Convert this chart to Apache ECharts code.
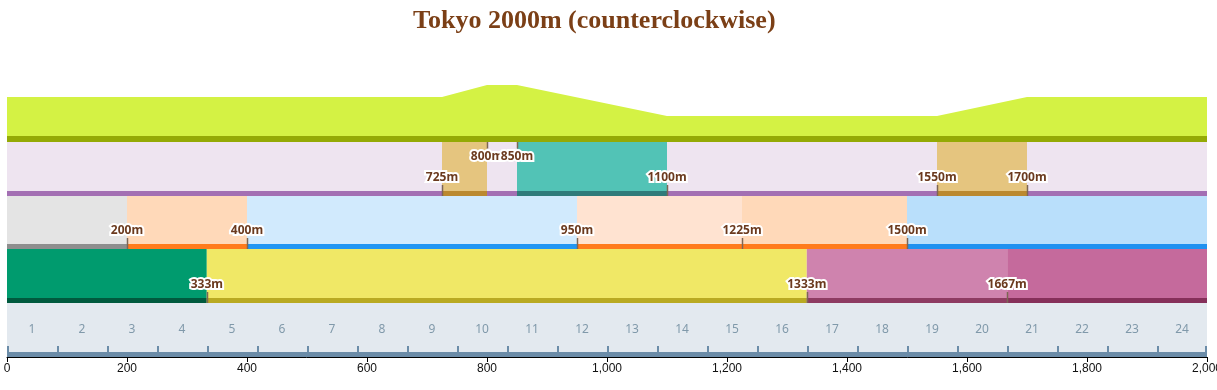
<!DOCTYPE html>
<html><head><meta charset="utf-8">
<script src="https://cdn.jsdelivr.net/npm/echarts@6/dist/echarts.min.js"></script>
<style>html,body{margin:0;padding:0;background:#fff}#c{width:1217px;height:390px}</style>
</head><body><div id="c"></div>
<script>
// ---------------- data ----------------
const TITLE = 'Tokyo 2000m (counterclockwise)';
const COURSE_LENGTH = 2000;
const AXIS_STEP = 200;
// relative elevation profile [distance m, elevation]
const elevationProfile = [[0,0],[725,0],[800,12],[850,12],[1100,-19],[1550,-19],[1700,0],[2000,0]];
// slope segments [start, end, kind]
const slopeSegments = [[725,800,'uphill'],[850,1100,'downhill'],[1550,1700,'uphill']];
// slope boundary marks [distance, placement]
const slopeMarks = [[725,'low'],[800,'high'],[850,'high'],[1100,'low'],[1550,'low'],[1700,'low']];
// corners / straights
const trackSegments = [[0,200,'start'],[200,400,'corner2'],[400,950,'backStraight'],[950,1225,'corner3'],[1225,1500,'corner4'],[1500,2000,'homeStraight']];
const trackMarks = [[200,'low'],[400,'low'],[950,'low'],[1225,'low'],[1500,'low']];
// race phases
const phaseSegments = [[0,333,'opening'],[333,1333,'middle'],[1333,1667,'final'],[1667,2000,'spurt']];
const phaseMarks = [[333,'low'],[1333,'low'],[1667,'low']];
// sections
const sectionLabels = ['1','2','3','4','5','6','7','8','9','10','11','12','13','14','15','16','17','18','19','20','21','22','23','24'];

// ---------------- layout / style ----------------
const ROWS = { slopeLine:[215,221], slope:[161,215], track:[108,161], phase:[54,108], section:[5,54], bar:[0,5] };
const LINE_W = 5;
const STYLE = {
  slopeArea:'#d4f244', slopeLine:'#94aa05',
  slopeBg:['#eee4f0','#a36fb3'],
  uphill:['#e5c57f','#bb892f'], downhill:['#52c3b6','#2f7b7a'],
  start:['#e4e4e4','#8e8e8e'], corner2:['#ffd9b9','#ff7b1c'], backStraight:['#d1eafd','#2196f3'],
  corner3:['#ffe3d1','#ff7b1c'], corner4:['#ffd9b9','#ff7b1c'], homeStraight:['#b9dffb','#1f91f0'],
  opening:['#009b6e','#005a3e'], middle:['#f0e866','#b9aa22'], final:['#cf83ae','#8e3b62'], spurt:['#c56a9c','#86305a'],
  sectionBg:'#e3e9ef', sectionInk:'#8099aa', bar:'#6b8ca8',
  markInk:'#6b3a1e', tick:'#7d6654'
};

function segSeries(row, segs, z) {
  return {
    type:'custom', xAxisIndex:0, yAxisIndex:0, z, silent:true, clip:false,
    data: segs.map(s => [s[0], s[1]]),
    renderItem(params, api) {
      const s = segs[params.dataIndex];
      const [fill, line] = STYLE[s[2]];
      const [lo, hi] = ROWS[row];
      const a = api.coord([api.value(0), hi]);
      const b = api.coord([api.value(1), lo]);
      const c = api.coord([api.value(0), lo + LINE_W]);
      return { type:'group', children:[
        { type:'rect', shape:{x:a[0], y:a[1], width:b[0]-a[0], height:b[1]-a[1]}, style:{fill} },
        { type:'rect', shape:{x:a[0], y:c[1], width:b[0]-a[0], height:b[1]-c[1]}, style:{fill:line} }
      ]};
    }
  };
}

function markSeries(row, marks, z) {
  return {
    type:'custom', xAxisIndex:0, yAxisIndex:0, z, silent:true, clip:false,
    data: marks.map(m => [m[0], 0]),
    renderItem(params, api) {
      const m = marks[params.dataIndex];
      const [lo, hi] = ROWS[row];
      const x = api.value(0);
      let t0, t1, ty;
      if (m[1] === 'high') { t0 = hi; t1 = hi - 6.5; ty = hi - 15; }
      else { t0 = lo; t1 = lo + 11; ty = lo + 18.5; }
      const p0 = api.coord([x, t0]), p1 = api.coord([x, t1]), pt = api.coord([x, ty]);
      return { type:'group', children:[
        { type:'line', shape:{x1:Math.round(p0[0])+0.5, y1:p0[1], x2:Math.round(p0[0])+0.5, y2:p1[1]}, style:{stroke:STYLE.tick, lineWidth:1.5} },
        { type:'text', style:{ x:pt[0], y:pt[1], text: m[0] + 'm', fill:STYLE.markInk, stroke:'#fff', lineWidth:4,
          font:'bold 12px "Noto Sans", sans-serif', align:'center', verticalAlign:'middle' } }
      ]};
    }
  };
}

function bandSeries(row, color, z) {
  return {
    type:'custom', xAxisIndex:0, yAxisIndex:0, z, silent:true, clip:false,
    data:[[0, COURSE_LENGTH]],
    renderItem(params, api) {
      const [lo, hi] = ROWS[row];
      const a = api.coord([api.value(0), hi]), b = api.coord([api.value(1), lo]);
      return { type:'rect', shape:{x:a[0], y:a[1], width:b[0]-a[0], height:b[1]-a[1]}, style:{fill:color} };
    }
  };
}

const secLen = COURSE_LENGTH / sectionLabels.length;
const sectionSeries = {
  type:'custom', xAxisIndex:0, yAxisIndex:0, z:6, silent:true, clip:false,
  data: sectionLabels.map((l, i) => [i * secLen, (i + 1) * secLen]),
  renderItem(params, api) {
    const [lo] = ROWS.section;
    const s = api.value(0), e = api.value(1);
    const p0 = api.coord([s, lo]), p1 = api.coord([s, lo + 6]);
    const pe0 = api.coord([e, lo]), pe1 = api.coord([e, lo + 6]);
    const pt = api.coord([(s + e) / 2, 27]);
    const children = [
      { type:'rect', shape:{x:Math.round(p0[0]), y:p1[1], width:2, height:p0[1]-p1[1]}, style:{fill:STYLE.bar} },
      { type:'text', style:{ x:pt[0], y:pt[1], text: sectionLabels[params.dataIndex], fill:STYLE.sectionInk,
        font:'12px "Noto Sans", sans-serif', align:'center', verticalAlign:'middle' } }
    ];
    if (params.dataIndex === sectionLabels.length - 1) {
      children.push({ type:'rect', shape:{x:Math.round(pe0[0])-2, y:pe1[1], width:2, height:pe0[1]-pe1[1]}, style:{fill:STYLE.bar} });
    }
    return { type:'group', children };
  }
};

const chart = echarts.init(document.getElementById('c'), null, {renderer:'canvas'});
chart.setOption({
  animation:false,
  backgroundColor:'#fff',
  title:{ text:TITLE, left:408, top:3,
    textStyle:{ fontFamily:'"Liberation Serif", serif', fontSize:26, fontWeight:'bold', color:'#7b3f16' } },
  grid:[
    { left:7, right:10, top:136, bottom:33, containLabel:false, outerBoundsMode:'none' },
    { left:7, right:10, top:73, height:63, containLabel:false, outerBoundsMode:'none' }
  ],
  xAxis:[
    { type:'value', gridIndex:0, min:0, max:COURSE_LENGTH, interval:AXIS_STEP,
      axisLine:{ show:true, lineStyle:{ color:'#000', width:1 } },
      axisTick:{ show:true, length:5, lineStyle:{ color:'#000' } },
      axisLabel:{ color:'#111', fontSize:12, margin:6, fontFamily:'"Liberation Sans", Arial, sans-serif', hideOverlap:false },
      splitLine:{ show:false } },
    { type:'value', gridIndex:1, min:0, max:COURSE_LENGTH, show:false }
  ],
  yAxis:[
    { type:'value', gridIndex:0, min:0, max:221, show:false },
    { type:'value', gridIndex:1, min:-39, max:24, show:false }
  ],
  series:[
    { type:'line', xAxisIndex:1, yAxisIndex:1, data:elevationProfile, symbol:'none', silent:true,
      lineStyle:{ width:0, opacity:0 }, areaStyle:{ color:STYLE.slopeArea, opacity:1, origin:'start' } },
    bandSeries('slopeLine', STYLE.slopeLine, 2),
    segSeries('slope', [[0, COURSE_LENGTH, 'slopeBg']], 2),
    segSeries('slope', slopeSegments, 3),
    segSeries('track', trackSegments, 3),
    segSeries('phase', phaseSegments, 3),
    bandSeries('section', STYLE.sectionBg, 2),
    bandSeries('bar', STYLE.bar, 2),
    sectionSeries,
    markSeries('slope', slopeMarks, 8),
    markSeries('track', trackMarks, 8),
    markSeries('phase', phaseMarks, 8)
  ]
});
</script></body></html>
